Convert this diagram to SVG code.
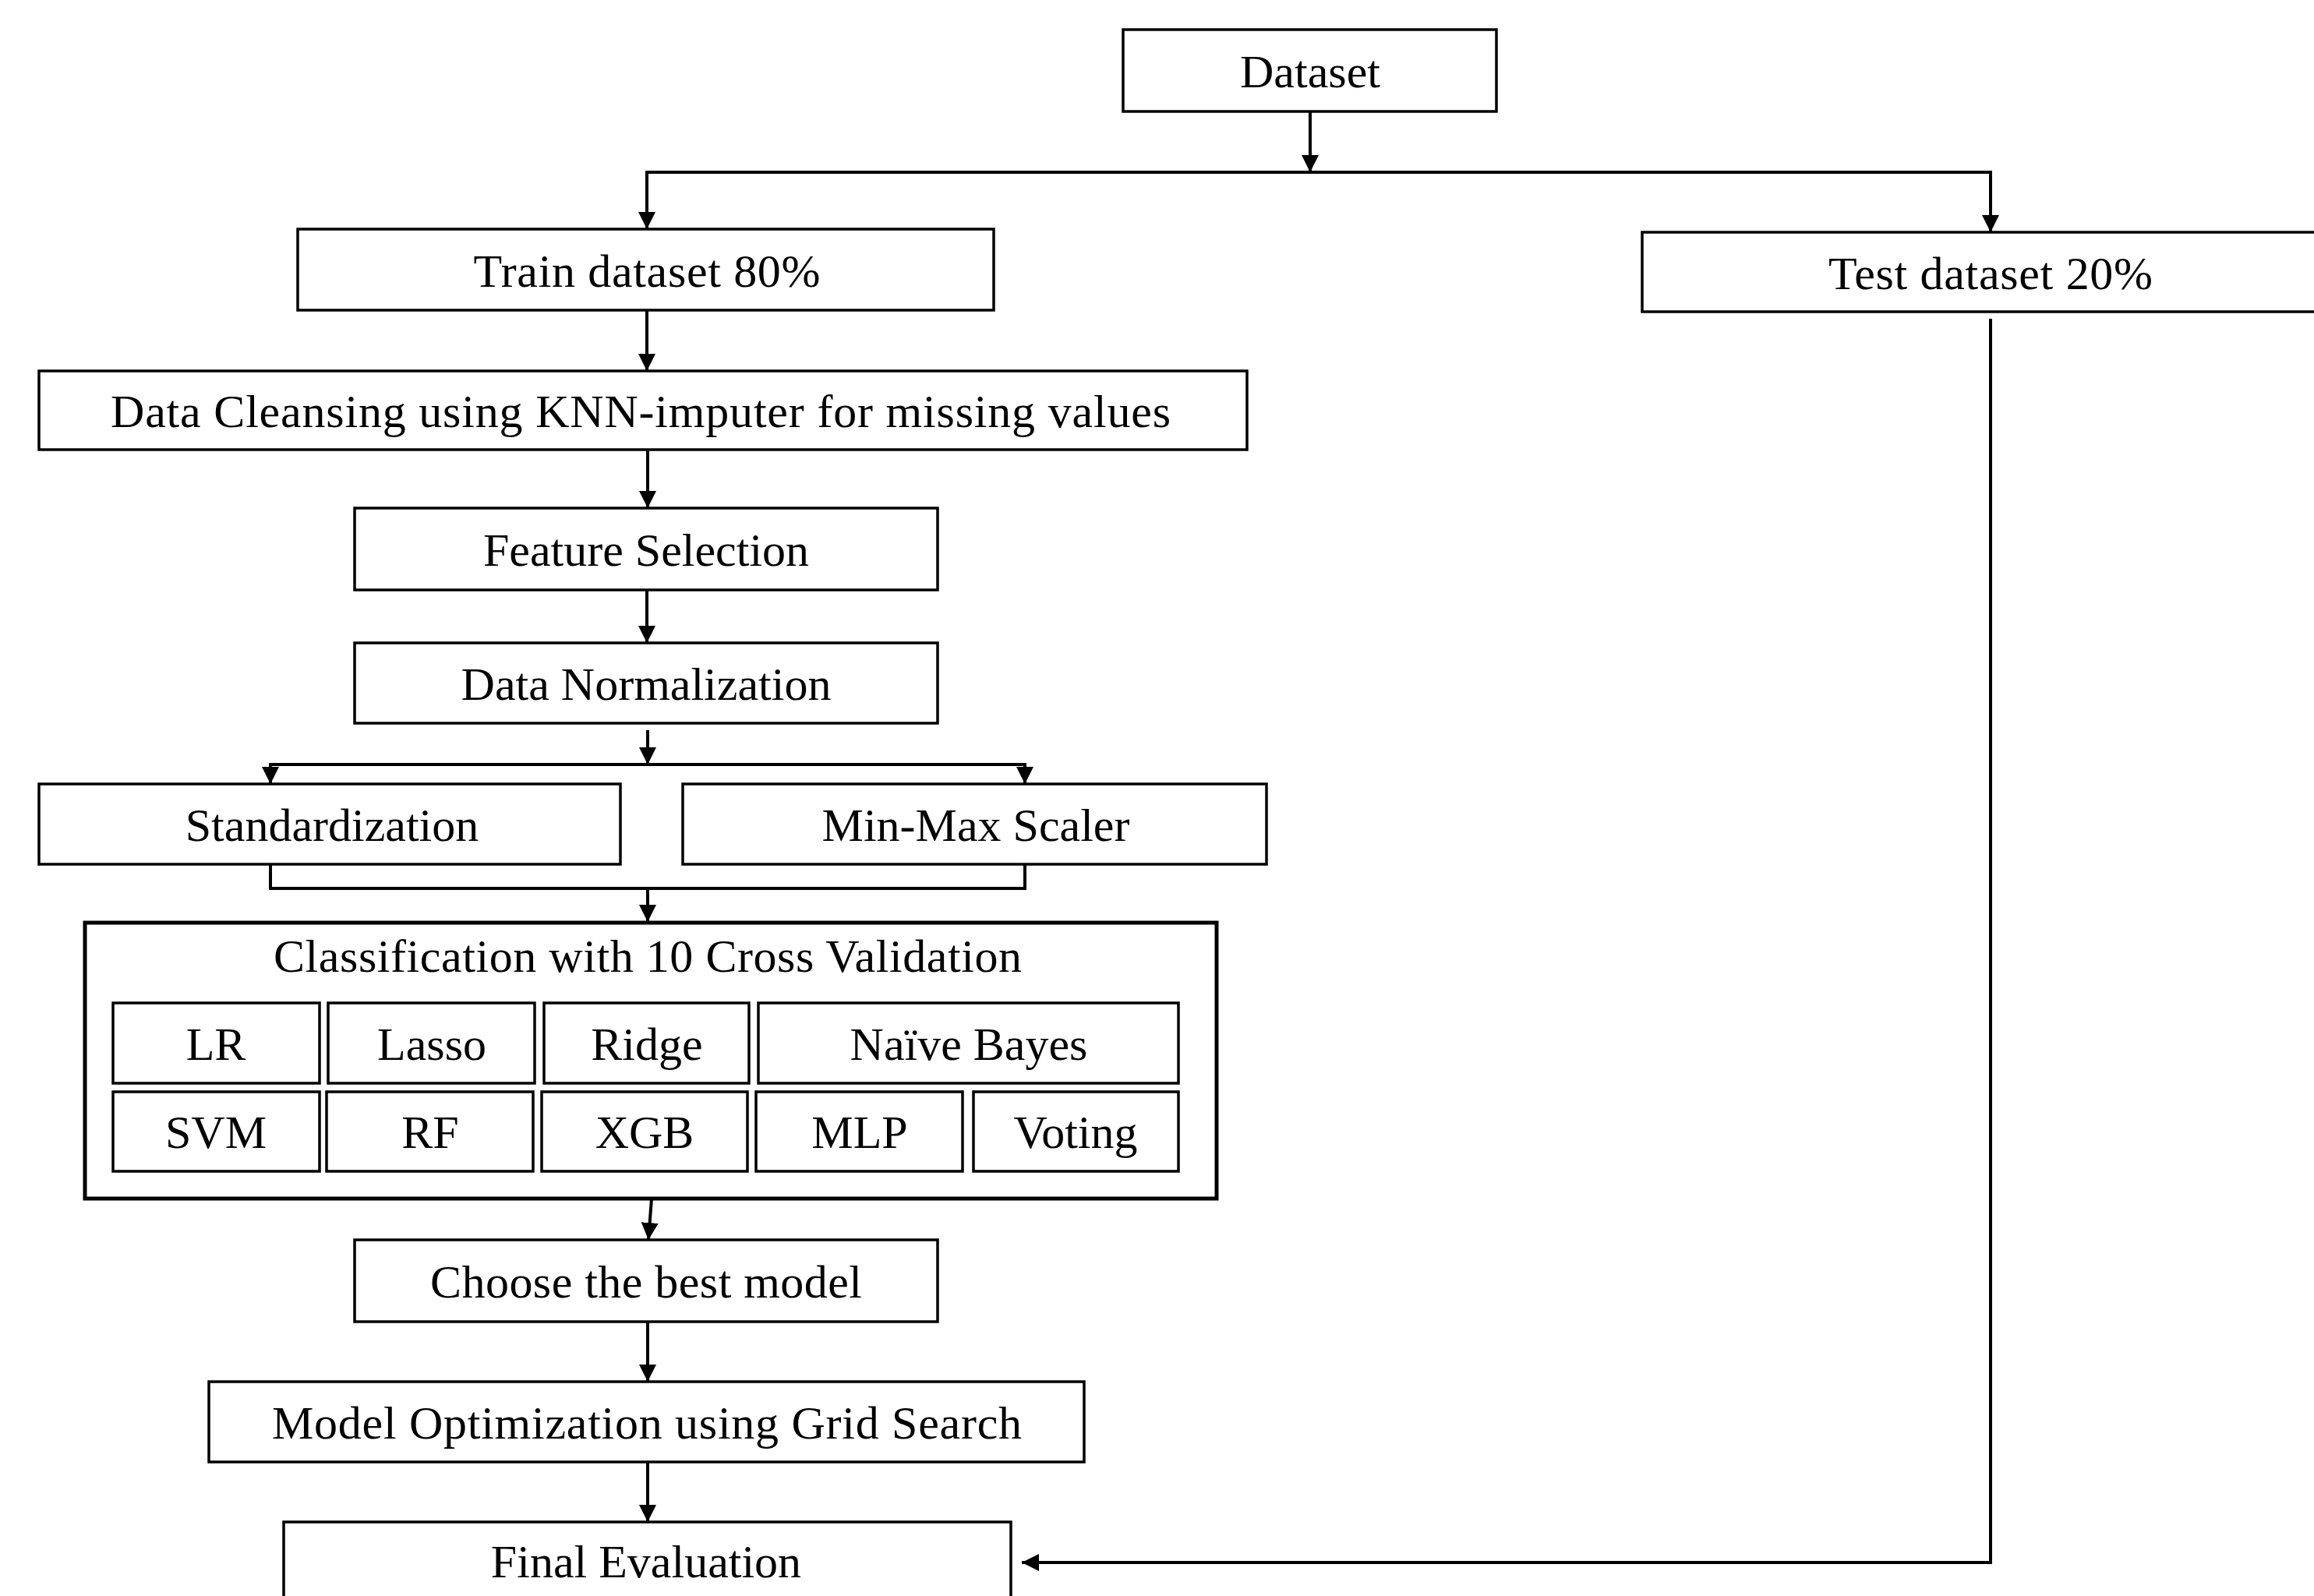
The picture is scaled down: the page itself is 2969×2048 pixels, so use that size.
<svg xmlns="http://www.w3.org/2000/svg" width="2969" height="2048" viewBox="0 0 2969 2048">
<defs>
<marker id="arr" viewBox="0 0 22 22" refX="22" refY="11" markerWidth="22" markerHeight="22" orient="auto" markerUnits="userSpaceOnUse">
<path d="M0,0 L22,11 L0,22 Z" fill="#000"/>
</marker>
<style>
.box{fill:#fff;stroke:#000;stroke-width:3.5}
.outer{fill:#fff;stroke:#000;stroke-width:5}
.t{font-family:"Liberation Serif","Times New Roman",serif;font-size:60px;fill:#000;text-anchor:middle}
.c{fill:none;stroke:#000;stroke-width:4}
</style>
</defs>
<rect width="2969" height="2048" fill="#fff"/>
<g id="connectors">
<line class="c" x1="1681" y1="143" x2="1681" y2="221" marker-end="url(#arr)"/>
<polyline class="c" points="830,294 830,221 2554,221 2554,298" marker-end="url(#arr)"/>
<line class="c" x1="830" y1="221" x2="830" y2="294" marker-end="url(#arr)"/>
<line class="c" x1="830" y1="398" x2="830" y2="476" marker-end="url(#arr)"/>
<line class="c" x1="831" y1="577" x2="831" y2="652" marker-end="url(#arr)"/>
<line class="c" x1="830" y1="757" x2="830" y2="825" marker-end="url(#arr)"/>
<line class="c" x1="831" y1="937" x2="831" y2="981" marker-end="url(#arr)"/>
<polyline class="c" points="347,1006 347,981 1315,981 1315,1006"/>
<line class="c" x1="347" y1="981" x2="347" y2="1006" marker-end="url(#arr)"/>
<line class="c" x1="1315" y1="981" x2="1315" y2="1006" marker-end="url(#arr)"/>
<polyline class="c" points="347,1109 347,1140 1315,1140 1315,1109"/>
<line class="c" x1="831" y1="1140" x2="831" y2="1183" marker-end="url(#arr)"/>
<line class="c" x1="836" y1="1538" x2="832" y2="1591" marker-end="url(#arr)"/>
<line class="c" x1="831" y1="1696" x2="831" y2="1773" marker-end="url(#arr)"/>
<line class="c" x1="831" y1="1876" x2="831" y2="1953" marker-end="url(#arr)"/>
<polyline class="c" points="2554,409 2554,2005 1311,2005" marker-end="url(#arr)"/>
</g>
<g id="dataset"><rect class="box" x="1441" y="38" width="479" height="105"/><text class="t" x="1681" y="112">Dataset</text></g>
<g id="train"><rect class="box" x="382" y="294" width="893" height="104"/><text class="t" x="830" y="368" textLength="445" lengthAdjust="spacing">Train dataset 80%</text></g>
<g id="test"><rect class="box" x="2107" y="298" width="900" height="102"/><text class="t" x="2554" y="371" textLength="416" lengthAdjust="spacing">Test dataset 20%</text></g>
<g id="cleansing"><rect class="box" x="50" y="476" width="1550" height="101"/><text class="t" x="822" y="548" textLength="1360" lengthAdjust="spacing">Data Cleansing using KNN-imputer for missing values</text></g>
<g id="feature"><rect class="box" x="455" y="652" width="748" height="105"/><text class="t" x="829" y="726">Feature Selection</text></g>
<g id="normalization"><rect class="box" x="455" y="825" width="748" height="103"/><text class="t" x="829" y="898">Data Normalization</text></g>
<g id="standardization"><rect class="box" x="50" y="1006" width="746" height="103"/><text class="t" x="426" y="1079">Standardization</text></g>
<g id="minmax"><rect class="box" x="876" y="1006" width="749" height="103"/><text class="t" x="1252" y="1079">Min-Max Scaler</text></g>
<g id="classification">
<rect class="outer" x="109" y="1184" width="1452" height="354"/>
<text class="t" x="831" y="1247" textLength="960" lengthAdjust="spacing">Classification with 10 Cross Validation</text>
</g>
<g id="lr"><rect class="box" x="145" y="1287" width="265" height="103"/><text class="t" x="277" y="1360">LR</text></g>
<g id="lasso"><rect class="box" x="421" y="1287" width="265" height="103"/><text class="t" x="554" y="1360">Lasso</text></g>
<g id="ridge"><rect class="box" x="698" y="1287" width="263" height="103"/><text class="t" x="830" y="1360">Ridge</text></g>
<g id="naivebayes"><rect class="box" x="973" y="1287" width="539" height="103"/><text class="t" x="1243" y="1360">Naïve Bayes</text></g>
<g id="svm"><rect class="box" x="145" y="1401" width="265" height="102"/><text class="t" x="277" y="1473">SVM</text></g>
<g id="rf"><rect class="box" x="419" y="1401" width="265" height="102"/><text class="t" x="552" y="1473">RF</text></g>
<g id="xgb"><rect class="box" x="695" y="1401" width="264" height="102"/><text class="t" x="827" y="1473">XGB</text></g>
<g id="mlp"><rect class="box" x="970" y="1401" width="265" height="102"/><text class="t" x="1103" y="1473">MLP</text></g>
<g id="voting"><rect class="box" x="1249" y="1401" width="263" height="102"/><text class="t" x="1380" y="1473">Voting</text></g>
<g id="choose"><rect class="box" x="455" y="1591" width="748" height="105"/><text class="t" x="829" y="1665" textLength="554" lengthAdjust="spacing">Choose the best model</text></g>
<g id="optimization"><rect class="box" x="268" y="1773" width="1123" height="103"/><text class="t" x="830" y="1846" textLength="962" lengthAdjust="spacing">Model Optimization using Grid Search</text></g>
<g id="final"><rect class="box" x="364" y="1953" width="933" height="110"/><text class="t" x="829" y="2024">Final Evaluation</text></g>
</svg>
